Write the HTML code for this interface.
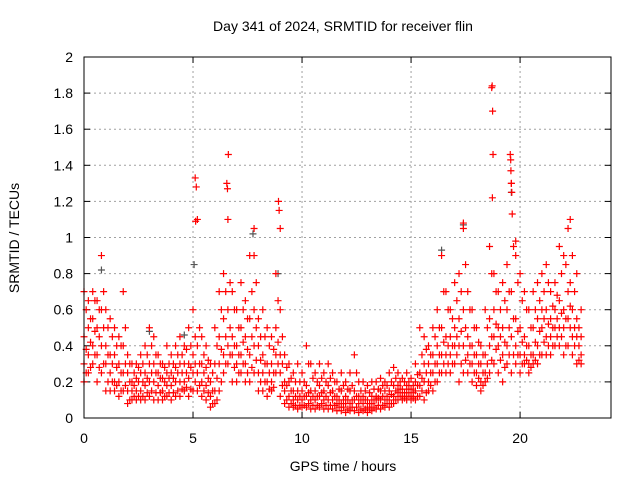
<!DOCTYPE html>
<html><head><meta charset="utf-8"><style>
body{margin:0;background:#fff;}
svg{display:block;font-family:"Liberation Sans",sans-serif;}
</style></head><body>
<svg id="chart" width="640" height="480" viewBox="0 0 640 480">
<text x="343" y="31" font-size="14" text-anchor="middle">Day 341 of 2024, SRMTID for receiver flin</text>
<text x="343" y="471" font-size="14" text-anchor="middle">GPS time / hours</text>
<text x="19" y="238" font-size="14" text-anchor="middle" transform="rotate(-90 19 238)">SRMTID / TECUs</text>
<g id="grid"></g>
<g id="ticks"></g>
<g id="marks"></g>
<rect x="84" y="57" width="527" height="361" fill="none" stroke="#000" stroke-width="1"/>
</svg>
<script>
const hours=[0.0,0.2,0.4,0.6,0.8,1.0,1.2,1.4,1.6,1.8,2.0,2.2,2.4,2.6,2.8,3.0,3.2,3.4,3.6,3.8,4.0,4.2,4.4,4.6,4.8,5.0,5.2,5.4,5.6,5.8,6.0,6.2,6.4,6.6,6.8,7.0,7.2,7.4,7.6,7.8,8.0,8.2,8.4,8.6,8.8,9.0,9.2,9.4,9.6,9.8,10.0,10.2,10.4,10.6,10.8,11.0,11.2,11.4,11.6,11.8,12.0,12.2,12.4,12.6,12.8,13.0,13.2,13.4,13.6,13.8,14.0,14.2,14.4,14.6,14.8,15.0,15.2,15.4,15.6,15.8,16.0,16.2,16.4,16.6,16.8,17.0,17.2,17.4,17.6,17.8,18.0,18.2,18.4,18.6,18.8,19.0,19.2,19.4,19.6,19.8,20.0,20.2,20.4,20.6,20.8,21.0,21.2,21.4,21.6,21.8,22.0,22.2,22.4,22.6,22.8];
const hiVals=[.7,.65,.7,.65,.9,.6,.55,.5,.45,.7,.35,.3,.3,.35,.4,.5,.45,.35,.3,.4,.35,.4,.45,.4,.5,.6,1.1,.45,.4,.3,.5,.7,.8,1.1,.7,.6,.75,.65,.9,.9,.55,.6,.5,.45,.8,.6,.35,.3,.25,.3,.25,.4,.3,.25,.3,.25,.3,.25,.2,.25,.2,.25,.35,.2,.2,.18,.2,.2,.22,.2,.25,.28,.25,.22,.25,.22,.3,.5,.45,.4,.5,.6,.9,.7,.6,.75,.8,1.05,.7,.6,.5,.4,.6,.95,.8,.7,.75,.85,1.3,.9,.8,.7,.6,.7,.75,.8,.85,.7,.75,.95,.9,1.05,.9,.8,.6];
const midAVals=[.45,.5,.55,.5,.6,.4,.35,.35,.3,.4,.25,.2,.22,.25,.25,.3,.3,.25,.22,.25,.25,.28,.3,.3,.3,.35,.4,.3,.28,.2,.3,.45,.55,.6,.45,.4,.5,.45,.55,.6,.4,.35,.3,.3,.5,.35,.2,.2,.15,.15,.15,.18,.15,.15,.18,.15,.18,.15,.12,.15,.12,.15,.15,.12,.12,.1,.12,.12,.15,.15,.15,.18,.18,.16,.18,.16,.2,.25,.3,.3,.35,.4,.5,.45,.45,.5,.55,.6,.45,.4,.35,.3,.35,.55,.6,.5,.5,.6,.7,.55,.5,.45,.4,.5,.55,.6,.6,.55,.6,.65,.6,.7,.6,.55,.45];
const midBVals=[.3,.35,.4,.35,.4,.3,.25,.2,.2,.25,.15,.15,.15,.15,.18,.2,.2,.18,.15,.18,.18,.2,.2,.2,.22,.25,.25,.2,.18,.12,.15,.3,.35,.4,.35,.3,.35,.3,.35,.4,.25,.25,.2,.2,.35,.25,.15,.12,.1,.1,.1,.12,.1,.1,.12,.1,.1,.1,.08,.08,.08,.08,.1,.08,.08,.06,.08,.1,.1,.1,.1,.12,.14,.12,.14,.12,.15,.18,.2,.2,.25,.3,.35,.35,.35,.4,.4,.4,.35,.3,.25,.2,.25,.4,.45,.4,.35,.4,.45,.4,.35,.35,.3,.35,.4,.5,.45,.45,.5,.5,.5,.55,.45,.45,.35];
const loVals=[.2,.25,.3,.2,.25,.15,.15,.15,.12,.15,.08,.1,.1,.1,.1,.12,.1,.1,.1,.12,.1,.12,.12,.15,.12,.15,.15,.12,.1,.06,.08,.15,.25,.3,.2,.2,.25,.2,.2,.25,.15,.15,.12,.15,.25,.12,.08,.06,.06,.05,.06,.06,.05,.05,.06,.05,.05,.05,.04,.04,.03,.04,.04,.03,.04,.03,.04,.05,.05,.06,.06,.08,.1,.1,.1,.1,.1,.12,.1,.15,.15,.2,.25,.25,.25,.3,.2,.25,.25,.2,.18,.15,.2,.25,.3,.25,.2,.3,.25,.3,.25,.3,.25,.3,.3,.35,.35,.35,.4,.4,.35,.4,.35,.3,.3];
const hours2=[0.1,0.3,0.5,0.7,0.9,1.1,1.3,1.5,1.7,1.9,2.1,2.3,2.5,2.7,2.9,3.1,3.3,3.5,3.7,3.9,4.1,4.3,4.5,4.7,4.9,5.1,5.3,5.5,5.7,5.9,6.1,6.3,6.5,6.7,6.9,7.1,7.3,7.5,7.7,7.9,8.1,8.3,8.5,8.7,8.9,9.1,9.3,9.5,9.7,9.9,10.1,10.3,10.5,10.7,10.9,11.1,11.3,11.5,11.7,11.9,12.1,12.3,12.5,12.7,12.9,13.1,13.3,13.5,13.7,13.9,14.1,14.3,14.5,14.7,14.9,15.1,15.3,15.5,15.7,15.9,16.1,16.3,16.5,16.7,16.9,17.1,17.3,17.5,17.7,17.9,18.1,18.3,18.5,18.7,18.9,19.1,19.3,19.5,19.7,19.9,20.1,20.3,20.5,20.7,20.9,21.1,21.3,21.5,21.7,21.9,22.1,22.3,22.5,22.7];
const upper2Vals=[.6,.55,.65,.6,.7,.5,.45,.4,.4,.5,.3,.25,.28,.3,.35,.4,.35,.3,.28,.3,.3,.35,.35,.38,.4,.45,.5,.35,.32,.25,.4,.6,.7,.75,.6,.5,.6,.55,.7,.75,.45,.45,.4,.38,.65,.45,.28,.22,.2,.2,.2,.3,.22,.2,.22,.2,.22,.2,.16,.18,.16,.18,.25,.15,.15,.14,.16,.16,.18,.18,.2,.22,.2,.2,.2,.18,.24,.35,.38,.35,.45,.5,.7,.6,.55,.65,.7,.85,.6,.5,.42,.35,.5,.8,.7,.6,.65,.7,.95,.75,.65,.6,.5,.6,.65,.7,.75,.62,.68,.8,.85,.75,.7,.5];
const mid2Vals=[.38,.42,.48,.45,.5,.35,.3,.28,.25,.3,.2,.18,.2,.2,.22,.25,.25,.22,.2,.22,.22,.25,.25,.25,.28,.3,.3,.25,.22,.15,.22,.38,.45,.5,.4,.35,.42,.38,.45,.5,.32,.3,.25,.25,.42,.3,.18,.15,.12,.12,.12,.14,.12,.12,.14,.12,.14,.12,.1,.1,.1,.1,.12,.1,.1,.08,.1,.11,.12,.12,.13,.15,.16,.14,.16,.14,.18,.22,.25,.25,.3,.35,.42,.4,.4,.45,.48,.5,.4,.35,.3,.25,.3,.45,.52,.45,.42,.5,.55,.48,.42,.4,.35,.42,.48,.55,.52,.5,.55,.58,.55,.62,.5,.4];
const low2Vals=[.25,.28,.35,.28,.3,.2,.2,.18,.15,.18,.1,.12,.12,.12,.14,.15,.14,.14,.12,.14,.14,.15,.16,.17,.16,.2,.18,.15,.14,.08,.1,.2,.3,.35,.28,.25,.3,.25,.28,.32,.2,.2,.16,.17,.3,.18,.1,.08,.07,.07,.07,.08,.07,.07,.08,.07,.07,.07,.06,.06,.05,.06,.06,.05,.05,.05,.06,.07,.07,.08,.08,.1,.12,.11,.12,.11,.12,.15,.14,.18,.2,.25,.3,.3,.3,.35,.3,.32,.3,.25,.22,.18,.22,.32,.38,.32,.28,.35,.35,.35,.3,.32,.28,.32,.35,.42,.4,.4,.45,.45,.4,.5,.4,.32];
const spikeHours=[5.1,5.15,5.12,6.62,6.58,6.55,7.8,8.92,8.95,9.0,17.4,18.72,18.7,18.74,18.76,18.73,19.55,19.57,19.58,19.6,19.62,19.64,19.8,22.3];
const spikeVals=[1.33,1.28,1.09,1.46,1.27,1.3,1.05,1.2,1.15,1.05,1.08,1.84,1.83,1.7,1.46,1.22,1.46,1.43,1.37,1.3,1.25,1.13,.98,1.1];
const greyHours=[0.8,5.05,7.75,8.9,16.4,17.4,19.6,3.0,4.6];
const greyVals=[.82,.85,1.02,.8,.93,1.07,1.25,.48,.46];
const xTicks=[0,5,10,15,20];
const yTicks=[0,0.2,0.4,0.6,0.8,1,1.2,1.4,1.6,1.8,2];
const yTickLabels=["0","0.2","0.4","0.6","0.8","1","1.2","1.4","1.6","1.8","2"];

const X0=84,X1=611,Y0=418,Y1=57,XMAX=24.17,YMAX=2;
const xs=v=>X0+v/XMAX*(X1-X0);
const ys=v=>Y0-v/YMAX*(Y0-Y1);
const NS="http://www.w3.org/2000/svg";
const grid=document.getElementById('grid'),ticks=document.getElementById('ticks'),marks=document.getElementById('marks');
function mk(tag,attrs,parent){const e=document.createElementNS(NS,tag);for(const k in attrs)e.setAttribute(k,attrs[k]);parent.appendChild(e);return e;}
xTicks.forEach(t=>{const x=xs(t);
 if(t>0){const g=mk('line',{x1:x,x2:x,y1:Y0,y2:Y1,stroke:'#a0a0a0','stroke-dasharray':'2,3'},grid);
 
 }
 mk('line',{x1:x,x2:x,y1:Y0,y2:Y0-6,stroke:'#000'},ticks);
 mk('line',{x1:x,x2:x,y1:Y1,y2:Y1+6,stroke:'#000'},ticks);
 const l=mk('text',{x:x,y:443,'font-size':14,'text-anchor':'middle'},ticks);l.textContent=t;
 
 
});
yTicks.forEach((t,i)=>{const y=ys(t);
 if(t>0&&t<2){const g=mk('line',{x1:X0,x2:X1,y1:y,y2:y,stroke:'#a0a0a0','stroke-dasharray':'2,3'},grid);
 
 }
 mk('line',{x1:X0,x2:X0+6,y1:y,y2:y,stroke:'#000'},ticks);
 mk('line',{x1:X1,x2:X1-6,y1:y,y2:y,stroke:'#000'},ticks);
 const l=mk('text',{x:73,y:y+5,'font-size':14,'text-anchor':'end'},ticks);l.textContent=yTickLabels[i];
 
 
});
function plus(h,v,color,name){const x=xs(h),y=ys(v);
 const p=mk('path',{d:`M${x-3.5},${y}h7M${x},${y-3.5}v7`,stroke:color,'stroke-width':1.2,fill:'none'},marks);
 
 }
greyHours.forEach((h,i)=>plus(h,greyVals[i],'#555','grey-point'));
[hiVals,midAVals,midBVals,loVals].forEach(arr=>hours.forEach((h,i)=>plus(h,arr[i],'#f00','srmtid-point')));
[upper2Vals,mid2Vals,low2Vals].forEach(arr=>hours2.forEach((h,i)=>plus(h,arr[i],'#f00','srmtid-point')));
spikeHours.forEach((h,i)=>plus(h,spikeVals[i],'#f00','srmtid-spike-point'));
</script>
</body></html>
